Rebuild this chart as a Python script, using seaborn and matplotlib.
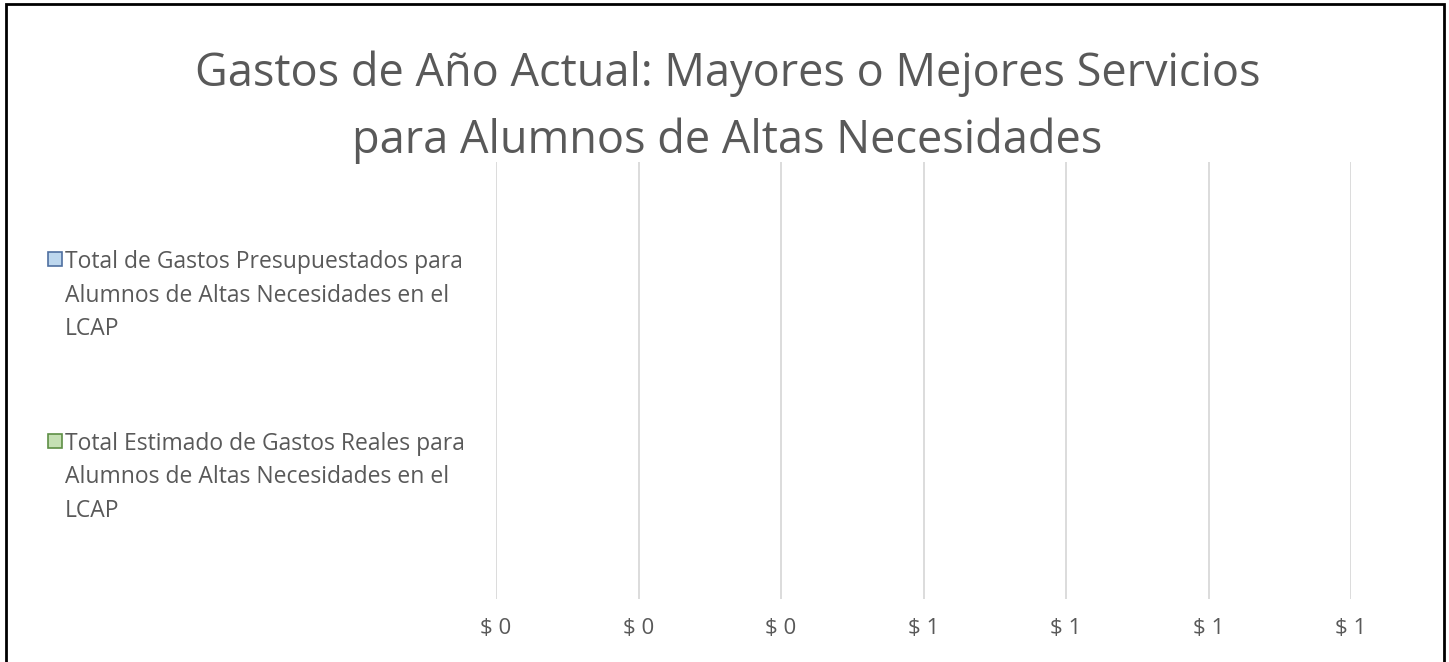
import matplotlib
matplotlib.use("Agg")
import matplotlib.pyplot as plt
import matplotlib.patches as mpatches
from matplotlib.lines import Line2D
import seaborn as sns
import pandas as pd

# Data
categories = ["LCAP"]
series_names = [
    "Total de Gastos Presupuestados para\nAlumnos de Altas Necesidades en el\nLCAP",
    "Total Estimado de Gastos Reales para\nAlumnos de Altas Necesidades en el\nLCAP",
]
series_values = [0, 0]
tick_values = [0, 0.2, 0.4, 0.6, 0.8, 1.0, 1.2]
tick_labels = ["$ 0", "$ 0", "$ 0", "$ 1", "$ 1", "$ 1", "$ 1"]
title_text = "Gastos de Año Actual: Mayores o Mejores Servicios\npara Alumnos de Altas Necesidades"

fill_colors = ["#BDD7EE", "#C5E0B4"]
edge_colors = ["#4F6FA0", "#5E8F45"]
text_color = "#595959"

sns.set_theme(style="white")
plt.rcParams["font.family"] = ["Open Sans", "DejaVu Sans"]

df = pd.DataFrame({
    "cat": categories * len(series_names),
    "series": series_names,
    "value": series_values,
})

fig = plt.figure(figsize=(14.49, 6.62), dpi=100)
ax = fig.add_axes([496 / 1449, 1 - 599 / 662, 855 / 1449, (599 - 162) / 662])

sns.barplot(data=df, x="value", y="cat", hue="series", orient="h",
            palette=fill_colors, ax=ax, legend=False, linewidth=0)

ax.set_xlim(0, 1.2)
ax.set_xticks(tick_values)
ax.set_xticklabels(tick_labels, color=text_color, fontsize=16)
ax.set_yticks([])
ax.set_xlabel("")
ax.set_ylabel("")
for s in ax.spines.values():
    s.set_visible(False)
ax.xaxis.grid(True, color="#D9D9D9", linewidth=1.3)
ax.yaxis.grid(False)
ax.tick_params(axis="x", length=0, pad=14)
ax.set_axisbelow(True)

handles = [Line2D([], [], linestyle="none", marker="s", markersize=10.5,
                  markerfacecolor=fc, markeredgecolor=ec, markeredgewidth=1.2)
           for fc, ec in zip(fill_colors, edge_colors)]
leg = fig.legend(handles, series_names, loc="upper left",
                 bbox_to_anchor=(47 / 1449, 1 - 250 / 662),
                 frameon=False, fontsize=16.5, labelcolor=text_color,
                 handlelength=0.68, handleheight=1.0, handletextpad=0.1,
                 labelspacing=3.95, borderpad=0, borderaxespad=0, numpoints=1)
for t in leg.get_texts():
    t.set_linespacing(1.53)
for col in leg._legend_handle_box.get_children():
    for hp in col.get_children():
        hp.align = "top"

fig.text(0.502, 0.838, title_text, ha="center", va="center",
         fontsize=32.5, color=text_color, linespacing=1.6)

border = mpatches.Rectangle((6 / 1449, -0.05), (1444 - 6) / 1449, 1 - 4 / 662 + 0.05,
                            transform=fig.transFigure, fill=False,
                            edgecolor="black", linewidth=2, clip_on=False)
fig.patches.append(border)

fig.savefig("out.png", dpi=100, facecolor="white")
